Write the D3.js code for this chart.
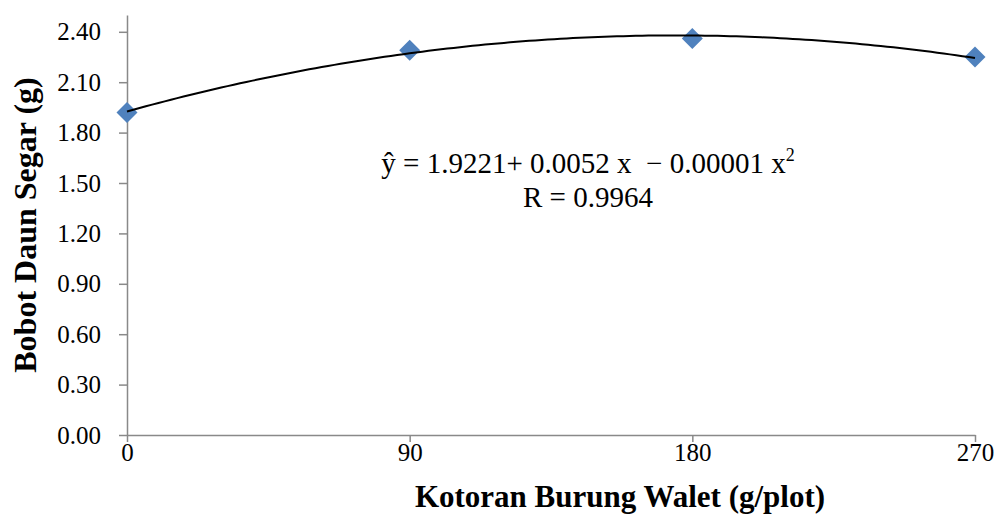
<!DOCTYPE html>
<html>
<head>
<meta charset="utf-8">
<script src="https://cdn.jsdelivr.net/npm/d3@7"></script>
<style>
  body { margin: 0; background: #fff; }
  svg { display: block; font-family: "Liberation Serif", "Times New Roman", serif; }
  .axis path, .axis line { stroke: #898989; stroke-width: 1.5; }
  .axis text { fill: #000; font-size: 25px; font-family: "Liberation Serif", "Times New Roman", serif; }
  .eq { white-space: pre; }
</style>
</head>
<body>
<div id="chart"></div>
<script>
// ---- data ----
const doses = [0, 90, 180, 270];            // Kotoran Burung Walet (g/plot)
const weights = [1.92, 2.29, 2.36, 2.25];   // Bobot Daun Segar (g)
const yTicks = [0, 0.3, 0.6, 0.9, 1.2, 1.5, 1.8, 2.1, 2.4];
const xTicks = [0, 90, 180, 270];
const equationText = ['ŷ = 1.9221+ 0.0052 x  − 0.00001 x', 'R = 0.9964'];

const width = 998, height = 514;
const margin = {top: 15, right: 23, bottom: 79, left: 127};
const innerW = width - margin.left - margin.right;
const innerH = height - margin.top - margin.bottom;

const svg = d3.select('#chart').append('svg')
  .attr('width', width)
  .attr('height', height);

const g = svg.append('g')
  .attr('transform', `translate(${margin.left},${margin.top})`);

const x = d3.scaleLinear().domain([0, 270]).range([0, innerW]);
const y = d3.scaleLinear().domain([0, 2.5]).range([innerH, 0]);

// axes
g.append('g')
  .attr('class', 'axis y-axis')
  .call(d3.axisLeft(y).tickValues(yTicks).tickFormat(d3.format('.2f'))
    .tickSize(8).tickSizeOuter(0).tickPadding(18));

g.append('g')
  .attr('class', 'axis x-axis')
  .attr('transform', `translate(0,${innerH})`)
  .call(d3.axisBottom(x).tickValues(xTicks).tickFormat(d3.format('d'))
    .tickSize(7).tickSizeOuter(0).tickPadding(1));

// least squares quadratic fit (trendline)
const pts = doses.map((d, i) => ({x: d, y: weights[i]}));
function quadFit(data) {
  const n = data.length;
  let s1 = 0, s2 = 0, s3 = 0, s4 = 0, sy = 0, sxy = 0, sx2y = 0;
  data.forEach(p => {
    const t = p.x;
    s1 += t; s2 += t * t; s3 += t ** 3; s4 += t ** 4;
    sy += p.y; sxy += t * p.y; sx2y += t * t * p.y;
  });
  // solve 3x3 via Cramer's rule
  const M = [[n, s1, s2], [s1, s2, s3], [s2, s3, s4]];
  const V = [sy, sxy, sx2y];
  const det = m => m[0][0] * (m[1][1] * m[2][2] - m[1][2] * m[2][1])
    - m[0][1] * (m[1][0] * m[2][2] - m[1][2] * m[2][0])
    + m[0][2] * (m[1][0] * m[2][1] - m[1][1] * m[2][0]);
  const D = det(M);
  return [0, 1, 2].map(k => det(M.map((row, i) => row.map((v, j) => j === k ? V[i] : v))) / D);
}
const [ca, cb, cc] = quadFit(pts);
const curveX = d3.range(0, 270.01, 2);

// markers
g.selectAll('.mark')
  .data(pts)
  .join('path')
  .attr('class', 'mark')
  .attr('transform', d => `translate(${x(d.x)},${y(d.y)})`)
  .attr('d', 'M0,-10.5L10.5,0L0,10.5L-10.5,0Z')
  .attr('fill', '#4f81bd');

// trend curve drawn above markers
g.append('path')
  .datum(curveX)
  .attr('fill', 'none')
  .attr('stroke', '#000')
  .attr('stroke-width', 2)
  .attr('d', d3.line().x(d => x(d)).y(d => y(ca + cb * d + cc * d * d)));

// equation
const eq = svg.append('text')
  .attr('class', 'eq')
  .attr('x', 588)
  .attr('y', 173)
  .attr('text-anchor', 'middle')
  .attr('font-size', 29);
eq.append('tspan').text(equationText[0]);
eq.append('tspan').attr('font-size', 18).attr('dy', -12).text('2');

svg.append('text')
  .attr('x', 588)
  .attr('y', 207)
  .attr('text-anchor', 'middle')
  .attr('font-size', 29)
  .text(equationText[1]);

// axis titles
svg.append('text')
  .attr('x', 620)
  .attr('y', 507)
  .attr('text-anchor', 'middle')
  .attr('font-size', 31)
  .attr('font-weight', 'bold')
  .text('Kotoran Burung Walet (g/plot)');

svg.append('text')
  .attr('transform', 'translate(36,225) rotate(-90)')
  .attr('text-anchor', 'middle')
  .attr('font-size', 32)
  .attr('font-weight', 'bold')
  .text('Bobot Daun Segar (g)');
</script>
</body>
</html>
